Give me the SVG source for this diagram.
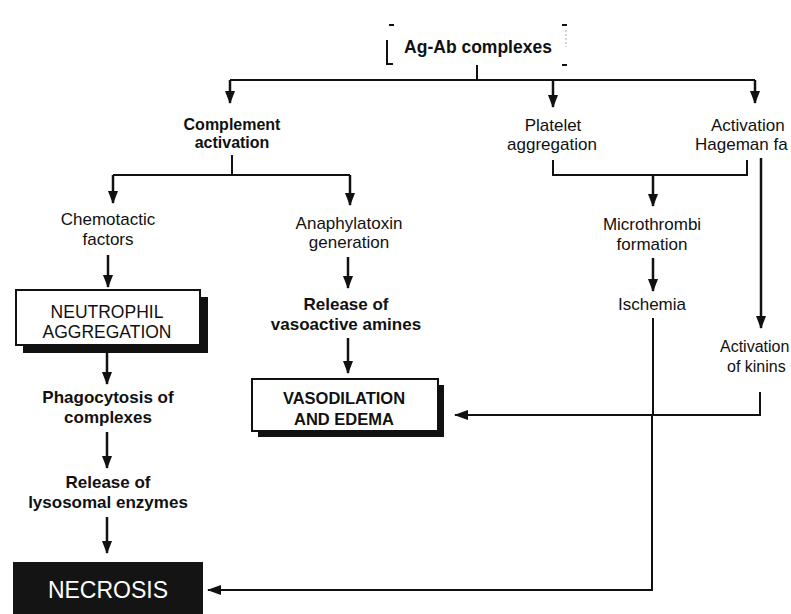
<svg xmlns="http://www.w3.org/2000/svg" width="791" height="614" viewBox="0 0 791 614">
<style>
text{font-family:"Liberation Sans",Arial,sans-serif;fill:#111;text-anchor:middle}
.n{font-size:17px}
.b{font-size:17px;font-weight:bold}
.ln{stroke:#111;stroke-width:2;fill:none}
.ar{stroke:#111;stroke-width:2.5;fill:none;marker-end:url(#ah)}
</style>
<defs>
<marker id="ah" markerWidth="13" markerHeight="10" refX="12" refY="5" orient="auto" markerUnits="userSpaceOnUse" viewBox="0 0 13 10">
<path d="M0,0 L13,5 L0,10 Z" fill="#111"/>
</marker>
<marker id="al" markerWidth="14" markerHeight="10" refX="13" refY="5" orient="auto" markerUnits="userSpaceOnUse" viewBox="0 0 14 10">
<path d="M0,0 L14,5 L0,10 Z" fill="#111"/>
</marker>
</defs>
<rect width="791" height="614" fill="#fff"/>

<g id="connectors">
<!-- top distribution -->
<path class="ln" d="M477,65 V80 M230,80 H755"/>
<path class="ar" d="M230,80 V103"/>
<path class="ar" d="M553,80 V107"/>
<path class="ar" d="M755,80 V103"/>
<!-- complement split -->
<path class="ln" d="M232,155 V175 M113,175 H350"/>
<path class="ar" d="M113,175 V203"/>
<path class="ar" d="M350,175 V205"/>
<!-- platelet / hageman bracket -->
<path class="ln" d="M553,160 V175 H747 V160"/>
<path class="ar" d="M653,175 V206"/>
<path class="ar" stroke-width="1.8" d="M761,158 V328"/>
<!-- left chain -->
<path class="ar" stroke-width="3" d="M108,255 V287"/>
<path class="ar" stroke-width="3" d="M107,353 V384"/>
<path class="ar" stroke-width="3" d="M107,432 V468"/>
<path class="ar" stroke-width="3" d="M107,517 V553"/>
<!-- middle chain -->
<path class="ar" d="M348,257 V288"/>
<path class="ar" stroke-width="3" d="M348,338 V373"/>
<!-- right chain -->
<path class="ar" stroke-width="3" d="M653,258 V291"/>
<!-- to vasodilation -->
<path class="ln" stroke-width="1.6" d="M760,392 V415 H470"/>
<path class="ln" stroke-width="2" marker-end="url(#al)" d="M480,415 H455"/>
<!-- ischemia to necrosis -->
<path class="ln" stroke-width="2.5" d="M653,318 V415"/>
<path class="ln" stroke-width="1.6" d="M652,415 V590 H220"/>
<path class="ln" stroke-width="2.2" marker-end="url(#al)" d="M230,590 H208"/>
</g>

<g id="agab">
<path class="ln" stroke-width="1.8" d="M387,40 V64 H393 M389,25 H394 M562,25 H567 M562,65 H567"/>
<path d="M566,30 V47" stroke="#aaa" stroke-width="1" stroke-dasharray="2,2"/>
<text class="b" x="478" y="53" style="font-size:17.5px">Ag-Ab complexes</text>
</g>

<g id="complement">
<text class="b" x="232" y="130" style="font-size:16px">Complement</text>
<text class="b" x="232" y="148" style="font-size:16px">activation</text>
</g>

<g id="platelet">
<text class="n" x="553" y="131">Platelet</text>
<text class="n" x="552" y="150">aggregation</text>
</g>

<g id="hageman">
<text class="n" x="711" y="131" style="text-anchor:start">Activation</text>
<text class="n" x="695" y="150" style="text-anchor:start">Hageman fa</text>
</g>

<g id="chemotactic">
<text class="n" x="108" y="225">Chemotactic</text>
<text class="n" x="108" y="245">factors</text>
</g>

<g id="anaphylatoxin">
<text class="n" x="349" y="229">Anaphylatoxin</text>
<text class="n" x="349" y="248">generation</text>
</g>

<g id="microthrombi">
<text class="n" x="652" y="230">Microthrombi</text>
<text class="n" x="652" y="250">formation</text>
</g>

<g id="neutrophil">
<rect x="23" y="297" width="185" height="56" fill="#111"/>
<rect x="16" y="290" width="184" height="55" fill="#fff" stroke="#111" stroke-width="2"/>
<text class="n" x="107" y="318" style="font-size:17.5px">NEUTROPHIL</text>
<text class="n" x="107" y="338" style="font-size:17.5px">AGGREGATION</text>
</g>

<g id="release-amines">
<text class="b" x="346" y="310">Release of</text>
<text class="b" x="346" y="330">vasoactive amines</text>
</g>

<g id="ischemia">
<text class="n" x="652" y="310">Ischemia</text>
</g>

<g id="kinins">
<text class="n" x="720" y="352" style="text-anchor:start;font-size:16px">Activation</text>
<text class="n" x="727" y="372" style="text-anchor:start;font-size:16px">of kinins</text>
</g>

<g id="vasodilation">
<rect x="258" y="385" width="186" height="52" fill="#111"/>
<rect x="252" y="379" width="186" height="52" fill="#fff" stroke="#111" stroke-width="2"/>
<text class="b" x="344" y="404" style="font-size:16.5px">VASODILATION</text>
<text class="b" x="344" y="425" style="font-size:16.5px">AND EDEMA</text>
</g>

<g id="phagocytosis">
<text class="b" x="108" y="403">Phagocytosis of</text>
<text class="b" x="108" y="423">complexes</text>
</g>

<g id="release-enzymes">
<text class="b" x="108" y="488">Release of</text>
<text class="b" x="108" y="508">lysosomal enzymes</text>
</g>

<g id="necrosis">
<rect x="13" y="562" width="190" height="52" fill="#141414"/>
<text x="108" y="598" style="font-size:23px;fill:#fff">NECROSIS</text>
</g>
</svg>
